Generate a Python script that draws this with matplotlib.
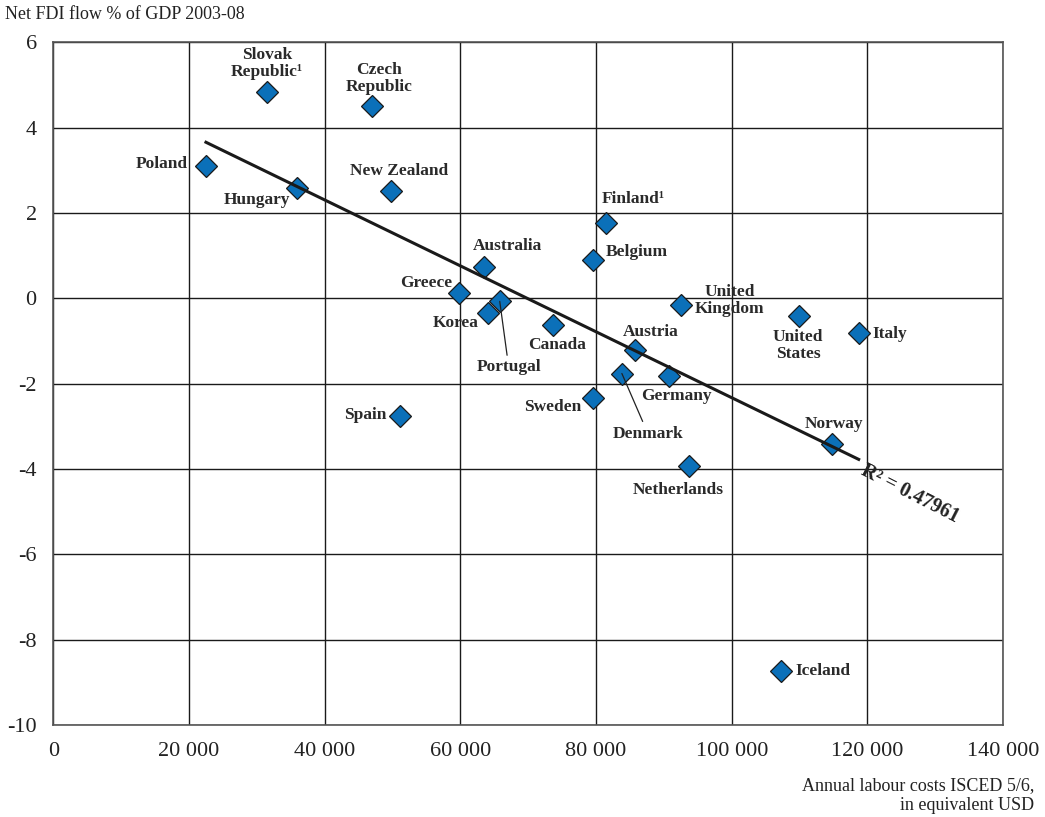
import numpy as np
import matplotlib.pyplot as plt

countries = ["Poland", "Slovak\nRepublic¹", "Hungary", "Czech\nRepublic", "New Zealand",
             "Spain", "Greece", "Australia", "Korea", "Portugal", "Canada", "Sweden",
             "Belgium", "Finland¹", "Denmark", "Austria", "Germany", "United\nKingdom",
             "Netherlands", "Iceland", "United\nStates", "Norway", "Italy"]
labour_cost = [22500, 31500, 35900, 47000, 49800, 51100, 59800, 63500, 64000, 65800,
               73700, 79500, 79500, 81500, 83800, 85700, 90800, 92500, 93700, 107200,
               109900, 114700, 118700]
fdi_flow = [3.11, 4.85, 2.60, 4.50, 2.53, -2.76, 0.12, 0.73, -0.35, -0.07, -0.63, -2.34,
            0.91, 1.76, -1.76, -1.22, -1.83, -0.16, -3.93, -8.74, -0.42, -3.42, -0.82]

# label offsets in pixels (dx, dy) and alignment
offsets = {
    "Poland": (-18, 2, "right"), "Slovak\nRepublic¹": (0, 28, "center"),
    "Hungary": (-7, -12, "right"), "Czech\nRepublic": (7, 28, "center"),
    "New Zealand": (8, 20, "center"), "Spain": (-14, 1, "right"),
    "Greece": (-7, 10, "right"), "Australia": (23, 21, "center"),
    "Korea": (-9, -10, "right"), "Portugal": (9, -66, "center"),
    "Canada": (4, -20, "center"), "Sweden": (-11, -9, "right"),
    "Belgium": (13, 8, "left"), "Finland¹": (-5, 24, "left"),
    "Denmark": (26, -60, "center"), "Austria": (16, 18, "center"),
    "Germany": (7, -20, "center"), "United\nKingdom": (14, 5, "left"),
    "Netherlands": (-11, -24, "center"), "Iceland": (15, 0, "left"),
    "United\nStates": (-1, -29, "center"), "Norway": (2, 20, "center"),
    "Italy": (14, -1, "left"),
}
leaders = ["Portugal", "Denmark"]

plt.rcParams['font.family'] = ['Liberation Serif', 'DejaVu Serif']
plt.rcParams['axes.unicode_minus'] = False

fig = plt.figure(figsize=(10.45, 8.17), dpi=100)
ax = fig.add_axes([0.051, 0.1126, 0.909, 0.8354])

x = np.array(labour_cost, dtype=float)
y = np.array(fdi_flow)

ax.plot(x, y, linestyle='none', marker='D', markersize=11.5, markerfacecolor='#0b70b9',
        markeredgecolor='#1a1a1a', markeredgewidth=0.9, zorder=3)

# linear trend over the data range
slope, intercept = np.polyfit(x, y, 1)
xs = np.array([x.min(), x.max()])
ax.plot(xs, slope * xs + intercept, color='#1a1a1a', lw=2.2, zorder=4)
ax.text(xs[1] + 1200, slope * xs[1] + intercept - 0.02, "R² = 0.47961", rotation=-27,
        rotation_mode='anchor', ha='left', va='top', fontsize=14.5, fontweight='bold',
        color='#222222', zorder=5)

for name, xv, yv in zip(countries, x, y):
    dx, dy, ha = offsets[name]
    props = None
    if name in leaders:
        props = dict(arrowstyle='-', color='#222222', lw=0.9, shrinkA=1, shrinkB=0)
    ax.annotate(name, (xv, yv), xytext=(dx, dy), textcoords='offset pixels',
                ha=ha, va='center', multialignment='center', fontsize=12.5,
                fontweight='bold', color='#2a2a2a', linespacing=1.1,
                arrowprops=props, zorder=5)

ax.set_xlim(0, 140000)
ax.set_ylim(-10, 6)
ax.set_xticks(np.arange(0, 140001, 20000))
ax.set_yticks(np.arange(-10, 7, 2))
ax.set_xticklabels([f"{v:,}".replace(",", " ") for v in range(0, 140001, 20000)])
ax.grid(True, color='#1a1a1a', lw=1.0)
ax.set_axisbelow(True)
ax.tick_params(length=0, labelsize=16, colors='#222222', pad=12)
for s in ax.spines.values():
    s.set_color('#555555')
    s.set_linewidth(1.2)

fig.text(0.005, 0.982, "Net FDI flow % of GDP 2003-08", fontsize=13, color='#222222',
         ha='left', va='center')
fig.text(0.99, 0.026, "Annual labour costs ISCED 5/6,\nin equivalent USD", fontsize=13,
         color='#222222', ha='right', va='center', multialignment='right', linespacing=1.2)

fig.savefig("out.png", dpi=100)
